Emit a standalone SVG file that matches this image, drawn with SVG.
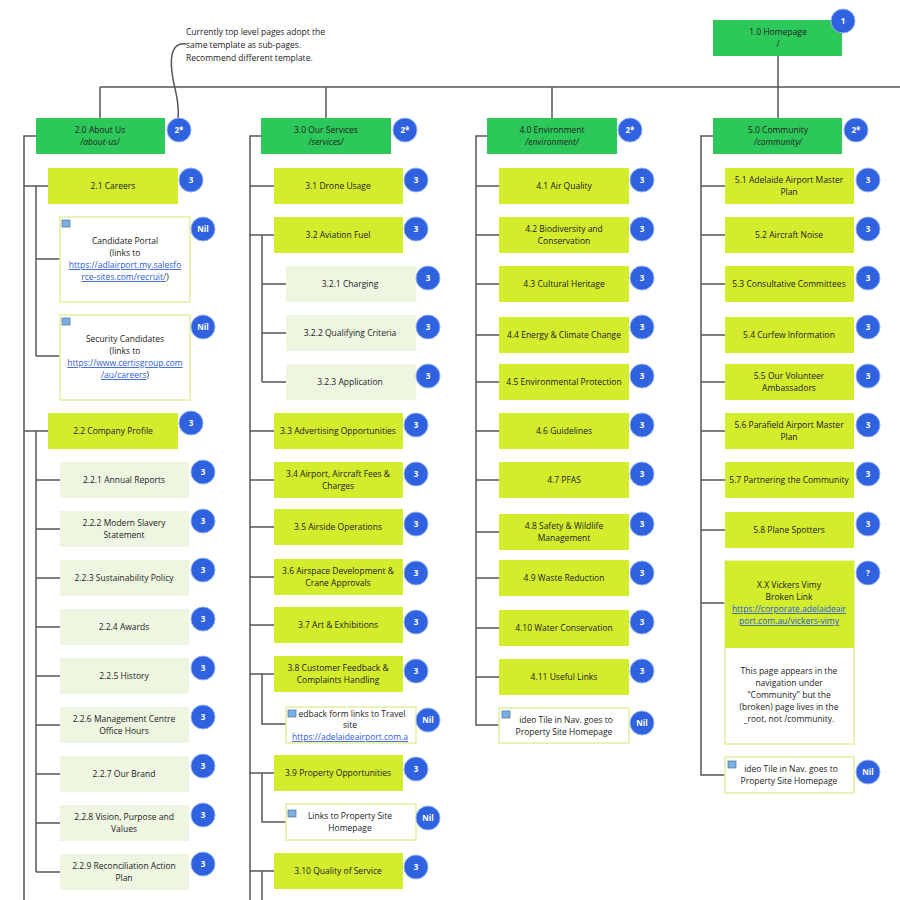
<svg xmlns="http://www.w3.org/2000/svg" width="900" height="900" viewBox="0 0 900 900">
<style>
text{font-family:"Open Sans","Liberation Sans",sans-serif;font-size:8.5px;fill:#222;text-anchor:middle}
.top{fill:#2dc85a}.l2{fill:#d3ec2b}.l3{fill:#eef6e2}.wb{fill:#fff;stroke:#dff0a0;stroke-width:1.5}
.b{fill:#3062e0;stroke:#8fb0f5;stroke-width:1}.bt{fill:#fff;font-size:8px;font-weight:bold}
.ln{fill:none;stroke:#555;stroke-width:1.5}
.lk{fill:#2a5bd6;text-decoration:underline}
.ic{fill:#7ab0e0;stroke:#4a6fa0;stroke-width:0.7}
.note{text-anchor:start;font-size:8.5px}
</style>
<rect width="900" height="900" fill="#fff"/>
<g id="connectors" class="ln">
<path d="M778,56V87M100,87H900M100,87V118M326,87V118M552,87V118M778,87V118"/>
<path d="M186,44C172,42 170,56 172,72C174,90 180,100 178,118"/>
<path d="M36,136H24V900M24,186H48M24,431H48M36,186V356M36,259H60M36,356H60M36,431V872M36,480H60M36,529H60M36,578H60M36,627H60M36,676H60M36,725H60M36,774H60M36,823H60M36,872H60"/>
<path d="M261,136H250V900M250,186H274M250,235H274M262,235V382M262,284H286M262,333H286M262,382H286M250,431H274M250,480H274M250,527H274M250,577H274M250,625H274M250,674H274M262,674V724H286M250,773H274M262,773V822H286M250,871H274M262,871V900"/>
<path d="M487,136H476V725H499M476,186H499M476,235H499M476,284H499M476,335H499M476,382H499M476,431H499M476,480H499M476,532H499M476,578H499M476,628H499M476,677H499"/>
<path d="M713,136H701V775H725M701,186H725M701,235H725M701,284H725M701,335H725M701,382H725M701,431H725M701,480H725M701,530H725M701,603H725"/>
</g>
<text class="note" x="186" y="35">Currently top level pages adopt the</text>
<text class="note" x="186" y="48">same template as sub-pages.</text>
<text class="note" x="186" y="61">Recommend different template.</text>
<g id="n1"><rect class="top" x="713" y="20" width="129" height="36"/><text x="778" y="35">1.0 Homepage</text><text x="778" y="47">/</text><circle class="b" cx="843" cy="21" r="12"/><text class="bt" x="843" y="24">1</text></g>
<g id="n2"><rect class="top" x="36" y="118" width="129" height="36"/><text x="100" y="133">2.0 About Us</text><text x="100" y="145" font-style="italic">/about-us/</text><circle class="b" cx="179" cy="130" r="12"/><text class="bt" x="179" y="133">2*</text></g>
<g id="n3"><rect class="top" x="261" y="118" width="130" height="36"/><text x="326" y="133">3.0 Our Services</text><text x="326" y="145" font-style="italic">/services/</text><circle class="b" cx="405" cy="130" r="12"/><text class="bt" x="405" y="133">2*</text></g>
<g id="n4"><rect class="top" x="487" y="118" width="130" height="36"/><text x="552" y="133">4.0 Environment</text><text x="552" y="145" font-style="italic">/environment/</text><circle class="b" cx="630" cy="130" r="12"/><text class="bt" x="630" y="133">2*</text></g>
<g id="n5"><rect class="top" x="713" y="118" width="129" height="36"/><text x="778" y="133">5.0 Community</text><text x="778" y="145" font-style="italic">/community/</text><circle class="b" cx="856" cy="130" r="12"/><text class="bt" x="856" y="133">2*</text></g>

<!-- column 1 -->
<g id="n21"><rect class="l2" x="48" y="168" width="130" height="36"/><text x="113" y="189">2.1 Careers</text><circle class="b" cx="191" cy="180" r="12"/><text class="bt" x="191" y="183">3</text></g>
<g id="n21a"><rect class="wb" x="60" y="217" width="130" height="85"/><rect class="ic" x="62" y="220" width="8" height="7"/><text x="125" y="244">Candidate Portal</text><text x="125" y="256">(links to</text><text x="125" y="268"><tspan class="lk">https://adlairport.my.salesfo</tspan></text><text x="125" y="280"><tspan class="lk">rce-sites.com/recruit/</tspan>)</text><circle class="b" cx="203" cy="229" r="12"/><text class="bt" x="203" y="232">Nil</text></g>
<g id="n21b"><rect class="wb" x="60" y="315" width="130" height="85"/><rect class="ic" x="62" y="318" width="8" height="7"/><text x="125" y="342">Security Candidates</text><text x="125" y="354">(links to</text><text x="125" y="366"><tspan class="lk">https://www.certisgroup.com</tspan></text><text x="125" y="378"><tspan class="lk">/au/careers</tspan>)</text><circle class="b" cx="203" cy="327" r="12"/><text class="bt" x="203" y="330">Nil</text></g>
<g id="n22"><rect class="l2" x="48" y="413" width="130" height="36"/><text x="113" y="434">2.2 Company Profile</text><circle class="b" cx="191" cy="423" r="12"/><text class="bt" x="191" y="426">3</text></g>
<g id="n221"><rect class="l3" x="60" y="462" width="129" height="36"/><text x="124" y="483">2.2.1 Annual Reports</text><circle class="b" cx="203" cy="472" r="12"/><text class="bt" x="203" y="475">3</text></g>
<g id="n222"><rect class="l3" x="60" y="511" width="129" height="36"/><text x="124" y="526">2.2.2 Modern Slavery</text><text x="124" y="538">Statement</text><circle class="b" cx="203" cy="521" r="12"/><text class="bt" x="203" y="524">3</text></g>
<g id="n223"><rect class="l3" x="60" y="560" width="129" height="36"/><text x="124" y="581">2.2.3 Sustainability Policy</text><circle class="b" cx="203" cy="570" r="12"/><text class="bt" x="203" y="573">3</text></g>
<g id="n224"><rect class="l3" x="60" y="609" width="129" height="36"/><text x="124" y="630">2.2.4 Awards</text><circle class="b" cx="203" cy="619" r="12"/><text class="bt" x="203" y="622">3</text></g>
<g id="n225"><rect class="l3" x="60" y="658" width="129" height="36"/><text x="124" y="679">2.2.5 History</text><circle class="b" cx="203" cy="668" r="12"/><text class="bt" x="203" y="671">3</text></g>
<g id="n226"><rect class="l3" x="60" y="707" width="129" height="36"/><text x="124" y="722">2.2.6 Management Centre</text><text x="124" y="734">Office Hours</text><circle class="b" cx="203" cy="717" r="12"/><text class="bt" x="203" y="720">3</text></g>
<g id="n227"><rect class="l3" x="60" y="756" width="129" height="36"/><text x="124" y="777">2.2.7 Our Brand</text><circle class="b" cx="203" cy="766" r="12"/><text class="bt" x="203" y="769">3</text></g>
<g id="n228"><rect class="l3" x="60" y="805" width="129" height="36"/><text x="124" y="820">2.2.8 Vision, Purpose and</text><text x="124" y="832">Values</text><circle class="b" cx="203" cy="815" r="12"/><text class="bt" x="203" y="818">3</text></g>
<g id="n229"><rect class="l3" x="60" y="854" width="129" height="36"/><text x="124" y="869">2.2.9 Reconciliation Action</text><text x="124" y="881">Plan</text><circle class="b" cx="203" cy="864" r="12"/><text class="bt" x="203" y="867">3</text></g>

<!-- column 2 -->
<g id="n31"><rect class="l2" x="274" y="168" width="129" height="36"/><text x="338" y="189">3.1 Drone Usage</text><circle class="b" cx="416" cy="180" r="12"/><text class="bt" x="416" y="183">3</text></g>
<g id="n32"><rect class="l2" x="274" y="217" width="129" height="36"/><text x="338" y="238">3.2 Aviation Fuel</text><circle class="b" cx="416" cy="229" r="12"/><text class="bt" x="416" y="232">3</text></g>
<g id="n321"><rect class="l3" x="286" y="266" width="130" height="36"/><text x="350" y="287">3.2.1 Charging</text><circle class="b" cx="428" cy="278" r="12"/><text class="bt" x="428" y="281">3</text></g>
<g id="n322"><rect class="l3" x="286" y="315" width="130" height="36"/><text x="350" y="336">3.2.2 Qualifying Criteria</text><circle class="b" cx="428" cy="327" r="12"/><text class="bt" x="428" y="330">3</text></g>
<g id="n323"><rect class="l3" x="286" y="364" width="130" height="36"/><text x="350" y="385">3.2.3 Application</text><circle class="b" cx="428" cy="376" r="12"/><text class="bt" x="428" y="379">3</text></g>
<g id="n33"><rect class="l2" x="274" y="413" width="129" height="36"/><text x="338" y="434">3.3 Advertising Opportunities</text><circle class="b" cx="416" cy="425" r="12"/><text class="bt" x="416" y="428">3</text></g>
<g id="n34"><rect class="l2" x="274" y="462" width="129" height="36"/><text x="338" y="477">3.4 Airport, Aircraft Fees &amp;</text><text x="338" y="489">Charges</text><circle class="b" cx="416" cy="474" r="12"/><text class="bt" x="416" y="477">3</text></g>
<g id="n35"><rect class="l2" x="274" y="509" width="129" height="36"/><text x="338" y="530">3.5 Airside Operations</text><circle class="b" cx="416" cy="524" r="12"/><text class="bt" x="416" y="527">3</text></g>
<g id="n36"><rect class="l2" x="274" y="559" width="129" height="36"/><text x="338" y="574">3.6 Airspace Development &amp;</text><text x="338" y="586">Crane Approvals</text><circle class="b" cx="416" cy="573" r="12"/><text class="bt" x="416" y="576">3</text></g>
<g id="n37"><rect class="l2" x="274" y="607" width="129" height="36"/><text x="338" y="628">3.7 Art &amp; Exhibitions</text><circle class="b" cx="416" cy="622" r="12"/><text class="bt" x="416" y="625">3</text></g>
<g id="n38"><rect class="l2" x="274" y="656" width="129" height="36"/><text x="338" y="671">3.8 Customer Feedback &amp;</text><text x="338" y="683">Complaints Handling</text><circle class="b" cx="416" cy="671" r="12"/><text class="bt" x="416" y="674">3</text></g>
<g id="n38a"><rect class="wb" x="286" y="707" width="130" height="36"/><rect class="ic" x="288" y="710" width="8" height="7"/><text x="352" y="717">edback form links to Travel</text><text x="350" y="728">site</text><text x="350" y="740" class="lk">https://adelaideairport.com.a</text><circle class="b" cx="428" cy="720" r="12"/><text class="bt" x="428" y="723">Nil</text></g>
<g id="n39"><rect class="l2" x="274" y="755" width="129" height="36"/><text x="338" y="776">3.9 Property Opportunities</text><circle class="b" cx="416" cy="769" r="12"/><text class="bt" x="416" y="772">3</text></g>
<g id="n39a"><rect class="wb" x="286" y="804" width="130" height="36"/><rect class="ic" x="288" y="810" width="8" height="7"/><text x="350" y="819">Links to Property Site</text><text x="350" y="831">Homepage</text><circle class="b" cx="428" cy="818" r="12"/><text class="bt" x="428" y="821">Nil</text></g>
<g id="n310"><rect class="l2" x="274" y="853" width="129" height="36"/><text x="338" y="874">3.10 Quality of Service</text><circle class="b" cx="416" cy="867" r="12"/><text class="bt" x="416" y="870">3</text></g>

<!-- column 3 -->
<g id="n41"><rect class="l2" x="499" y="168" width="130" height="36"/><text x="564" y="189">4.1 Air Quality</text><circle class="b" cx="642" cy="180" r="12"/><text class="bt" x="642" y="183">3</text></g>
<g id="n42"><rect class="l2" x="499" y="217" width="130" height="36"/><text x="564" y="232">4.2 Biodiversity and</text><text x="564" y="244">Conservation</text><circle class="b" cx="642" cy="229" r="12"/><text class="bt" x="642" y="232">3</text></g>
<g id="n43"><rect class="l2" x="499" y="266" width="130" height="36"/><text x="564" y="287">4.3 Cultural Heritage</text><circle class="b" cx="642" cy="278" r="12"/><text class="bt" x="642" y="281">3</text></g>
<g id="n44"><rect class="l2" x="499" y="317" width="130" height="36"/><text x="564" y="338">4.4 Energy &amp; Climate Change</text><circle class="b" cx="642" cy="327" r="12"/><text class="bt" x="642" y="330">3</text></g>
<g id="n45"><rect class="l2" x="499" y="364" width="130" height="36"/><text x="564" y="385">4.5 Environmental Protection</text><circle class="b" cx="642" cy="376" r="12"/><text class="bt" x="642" y="379">3</text></g>
<g id="n46"><rect class="l2" x="499" y="413" width="130" height="36"/><text x="564" y="434">4.6 Guidelines</text><circle class="b" cx="642" cy="425" r="12"/><text class="bt" x="642" y="428">3</text></g>
<g id="n47"><rect class="l2" x="499" y="462" width="130" height="36"/><text x="564" y="483">4.7 PFAS</text><circle class="b" cx="642" cy="474" r="12"/><text class="bt" x="642" y="477">3</text></g>
<g id="n48"><rect class="l2" x="499" y="514" width="130" height="36"/><text x="564" y="529">4.8 Safety &amp; Wildlife</text><text x="564" y="541">Management</text><circle class="b" cx="642" cy="524" r="12"/><text class="bt" x="642" y="527">3</text></g>
<g id="n49"><rect class="l2" x="499" y="560" width="130" height="36"/><text x="564" y="581">4.9 Waste Reduction</text><circle class="b" cx="642" cy="573" r="12"/><text class="bt" x="642" y="576">3</text></g>
<g id="n410"><rect class="l2" x="499" y="610" width="130" height="36"/><text x="564" y="631">4.10 Water Conservation</text><circle class="b" cx="642" cy="622" r="12"/><text class="bt" x="642" y="625">3</text></g>
<g id="n411"><rect class="l2" x="499" y="659" width="130" height="36"/><text x="564" y="680">4.11 Useful Links</text><circle class="b" cx="642" cy="671" r="12"/><text class="bt" x="642" y="674">3</text></g>
<g id="n4v"><rect class="wb" x="499" y="708" width="130" height="35"/><rect class="ic" x="502" y="711" width="8" height="7"/><text x="566" y="723">ideo Tile in Nav. goes to</text><text x="564" y="735">Property Site Homepage</text><circle class="b" cx="642" cy="723" r="12"/><text class="bt" x="642" y="726">Nil</text></g>

<!-- column 4 -->
<g id="n51"><rect class="l2" x="725" y="168" width="129" height="36"/><text x="789" y="183">5.1 Adelaide Airport Master</text><text x="789" y="195">Plan</text><circle class="b" cx="868" cy="180" r="12"/><text class="bt" x="868" y="183">3</text></g>
<g id="n52"><rect class="l2" x="725" y="217" width="129" height="36"/><text x="789" y="238">5.2 Aircraft Noise</text><circle class="b" cx="868" cy="229" r="12"/><text class="bt" x="868" y="232">3</text></g>
<g id="n53"><rect class="l2" x="725" y="266" width="129" height="36"/><text x="789" y="287">5.3 Consultative Committees</text><circle class="b" cx="868" cy="278" r="12"/><text class="bt" x="868" y="281">3</text></g>
<g id="n54"><rect class="l2" x="725" y="317" width="129" height="36"/><text x="789" y="338">5.4 Curfew Information</text><circle class="b" cx="868" cy="327" r="12"/><text class="bt" x="868" y="330">3</text></g>
<g id="n55"><rect class="l2" x="725" y="364" width="129" height="36"/><text x="789" y="379">5.5 Our Volunteer</text><text x="789" y="391">Ambassadors</text><circle class="b" cx="868" cy="376" r="12"/><text class="bt" x="868" y="379">3</text></g>
<g id="n56"><rect class="l2" x="725" y="413" width="129" height="36"/><text x="789" y="428">5.6 Parafield Airport Master</text><text x="789" y="440">Plan</text><circle class="b" cx="868" cy="425" r="12"/><text class="bt" x="868" y="428">3</text></g>
<g id="n57"><rect class="l2" x="725" y="462" width="129" height="36"/><text x="789" y="483">5.7 Partnering the Community</text><circle class="b" cx="868" cy="474" r="12"/><text class="bt" x="868" y="477">3</text></g>
<g id="n58"><rect class="l2" x="725" y="512" width="129" height="36"/><text x="789" y="533">5.8 Plane Spotters</text><circle class="b" cx="868" cy="524" r="12"/><text class="bt" x="868" y="527">3</text></g>
<g id="n5x"><rect class="wb" x="725" y="561" width="129" height="183"/><rect class="l2" x="725" y="561" width="129" height="87"/><text x="789" y="588">X.X Vickers Vimy</text><text x="789" y="600">Broken Link</text><text x="789" y="612" class="lk">https://corporate.adelaideair</text><text x="789" y="624" class="lk">port.com.au/vickers-vimy</text><text x="789" y="674">This page appears in the</text><text x="789" y="686">navigation under</text><text x="789" y="698">"Community" but the</text><text x="789" y="710">(broken) page lives in the</text><text x="789" y="722">_root, not /community.</text><circle class="b" cx="868" cy="573" r="12"/><text class="bt" x="868" y="576">?</text></g>
<g id="n5v"><rect class="wb" x="725" y="757" width="129" height="36"/><rect class="ic" x="728" y="761" width="8" height="7"/><text x="791" y="772">ideo Tile in Nav. goes to</text><text x="789" y="784">Property Site Homepage</text><circle class="b" cx="868" cy="772" r="12"/><text class="bt" x="868" y="775">Nil</text></g>
</svg>
